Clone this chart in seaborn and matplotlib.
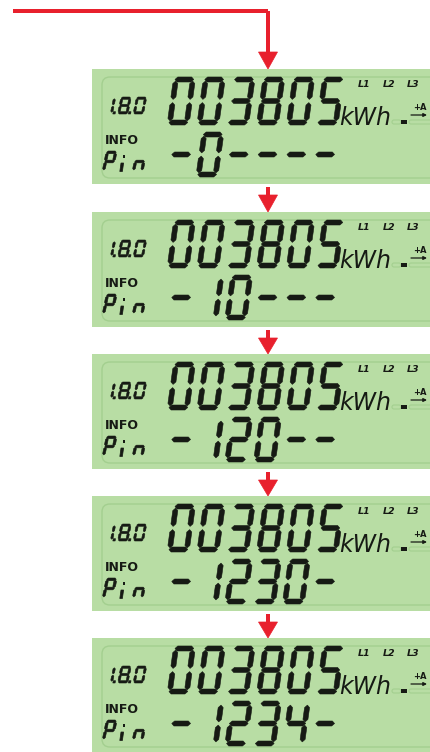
import matplotlib
matplotlib.use("Agg")
import matplotlib.pyplot as plt
from matplotlib.patches import Polygon, Rectangle, FancyBboxPatch
import seaborn as sns

# what the meter shows
reading = "003805"
unit = "kWh"
obis_code = "1.8.0"
phases = ["L1", "L2", "L3"]
pin_steps = ["-0----", "-10---", "-120--", "-1230-", "-1234-"]

sns.set_style("white")
plt.rcParams["font.family"] = ["DejaVu Sans"]

LCD = "#b8dda4"
LCD_EDGE = "#a3cf8f"
INK = "#161a14"
RED = "#e8202d"

SEGS = {"0": "abcdef", "1": "bc", "2": "abged", "3": "abgcd", "4": "fgbc",
        "5": "afgcd", "6": "afgedc", "7": "abc", "8": "abcdefg", "9": "abcdfg",
        "-": "g", "P": "abefg", "n": "ceg", " ": ""}


def seven_seg(ax, ch, x0, y0, W, H, T, slant, gap, dot=False):
    # y0 is the top of the cell, y axis points down
    yb = y0 + H

    def sh(pts):
        return [(x + (yb - y) * slant, y) for x, y in pts]

    def hseg(yc):
        xl = x0 + T / 2 + gap
        xr = x0 + W - T / 2 - gap
        return [(xl - T / 2, yc), (xl, yc - T / 2), (xr, yc - T / 2),
                (xr + T / 2, yc), (xr, yc + T / 2), (xl, yc + T / 2)]

    def vseg(xc, ya, yz):
        return [(xc, ya), (xc + T / 2, ya + T / 2), (xc + T / 2, yz - T / 2),
                (xc, yz), (xc - T / 2, yz - T / 2), (xc - T / 2, ya + T / 2)]

    xl = x0 + T / 2
    xr = x0 + W - T / 2
    up = (y0 + T / 2 + gap, y0 + H / 2 - gap)
    lo = (y0 + H / 2 + gap, yb - T / 2 - gap)
    shapes = {
        "a": hseg(y0 + T / 2), "g": hseg(y0 + H / 2), "d": hseg(yb - T / 2),
        "f": vseg(xl, *up), "b": vseg(xr, *up),
        "e": vseg(xl, *lo), "c": vseg(xr, *lo),
    }
    for s in SEGS[ch]:
        ax.add_patch(Polygon(sh(shapes[s]), closed=True, facecolor=INK,
                             edgecolor=INK, linewidth=0.4, joinstyle="round"))
    if dot:
        d = T
        xd = x0 + W + gap * 0.5
        ax.add_patch(Polygon(sh([(xd, yb - d), (xd + d, yb - d), (xd + d, yb), (xd, yb)]),
                             closed=True, facecolor=INK, edgecolor=INK, linewidth=0.4))


fig = plt.figure(figsize=(4.3, 7.52), dpi=100)
ax = fig.add_axes([0, 0, 1, 1])
ax.set_xlim(0, 430)
ax.set_ylim(752, 0)
ax.axis("off")

tops = [69, 212, 354, 496, 638]
ph = 115
ax_x = 268

# red lead-in arrow
lw_px = 4 * 72 / 100
ax.plot([13, ax_x], [10.5, 10.5], color=RED, lw=lw_px, solid_capstyle="butt")
ax.plot([ax_x, ax_x], [10.5, 54], color=RED, lw=lw_px, solid_capstyle="butt")
ax.add_patch(Polygon([(258.5, 52), (277.5, 52), (ax_x, tops[0])], closed=True,
                     facecolor=RED, edgecolor=RED, lw=0.5))

for i, pin in enumerate(pin_steps):
    top = tops[i]
    ax.add_patch(Rectangle((92, top), 345, ph, facecolor=LCD, edgecolor="none"))
    ax.add_patch(FancyBboxPatch((102, top + 8), 340, 101,
                                boxstyle="round,pad=0,rounding_size=8",
                                facecolor="none", edgecolor=LCD_EDGE, lw=1.0))

    # main register
    for k, ch in enumerate(reading):
        seven_seg(ax, ch, 167 + 29.8 * k, top + 8, 22, 48, 5.0, 0.14, 1.6)
    ax.text(339, top + 56, unit, fontsize=17, style="italic", color=INK,
            ha="left", va="baseline")

    # obis code
    parts = obis_code.split(".")
    for k, ch in enumerate(parts):
        seven_seg(ax, ch, 102 + 15.5 * k, top + 28, 10.5, 17, 2.3, 0.2, 0.6,
                  dot=k < len(parts) - 1)

    for k, lab in enumerate(phases):
        ax.text(358 + 24.5 * k, top + 18, lab, fontsize=6.8, fontweight="bold",
                style="italic", color=INK, ha="left", va="baseline")

    # direction indicator
    ax.add_patch(FancyBboxPatch((392, top + 51), 9, 4,
                                boxstyle="round,pad=0,rounding_size=2",
                                facecolor="none", edgecolor=LCD_EDGE, lw=0.8))
    ax.add_patch(FancyBboxPatch((409, top + 51), 24, 4,
                                boxstyle="round,pad=0,rounding_size=2",
                                facecolor="none", edgecolor=LCD_EDGE, lw=0.8))
    ax.add_patch(Rectangle((401, top + 51), 6, 4, facecolor=INK, edgecolor="none"))
    ax.text(413, top + 41, "+A", fontsize=6, fontweight="bold", color=INK,
            ha="left", va="baseline")
    ax.annotate("", xy=(427, top + 46), xytext=(411, top + 46),
                arrowprops=dict(arrowstyle="-|>", color=INK, lw=0.9,
                                mutation_scale=5, shrinkA=0, shrinkB=0))

    # pin entry line
    ax.text(105, top + 75, "INFO", fontsize=9, fontweight="bold", color=INK,
            ha="left", va="baseline")
    seven_seg(ax, "P", 102, top + 82, 11, 21, 2.7, 0.2, 0.7)
    ax.add_patch(Polygon([(121.0, top + 94), (123.6, top + 94), (122.4, top + 102.5), (119.8, top + 102.5)],
                         closed=True, facecolor=INK, edgecolor=INK, lw=0.5))
    ax.add_patch(Rectangle((122.6, top + 86), 2.8, 2.8, facecolor=INK, edgecolor="none"))
    seven_seg(ax, "n", 132, top + 82, 11, 21, 2.7, 0.2, 0.7)

    for k, ch in enumerate(pin):
        seven_seg(ax, ch, 167 + 28.8 * k, top + 63, 22, 45, 5.0, 0.14, 1.6)

    if i < len(pin_steps) - 1:
        b = top + ph
        ax.plot([ax_x, ax_x], [b + 3, b + 12], color=RED, lw=lw_px, solid_capstyle="butt")
        ax.add_patch(Polygon([(258.5, b + 11), (277.5, b + 11), (ax_x, tops[i + 1])],
                             closed=True, facecolor=RED, edgecolor=RED, lw=0.5))

fig.savefig("out.png", dpi=100)
